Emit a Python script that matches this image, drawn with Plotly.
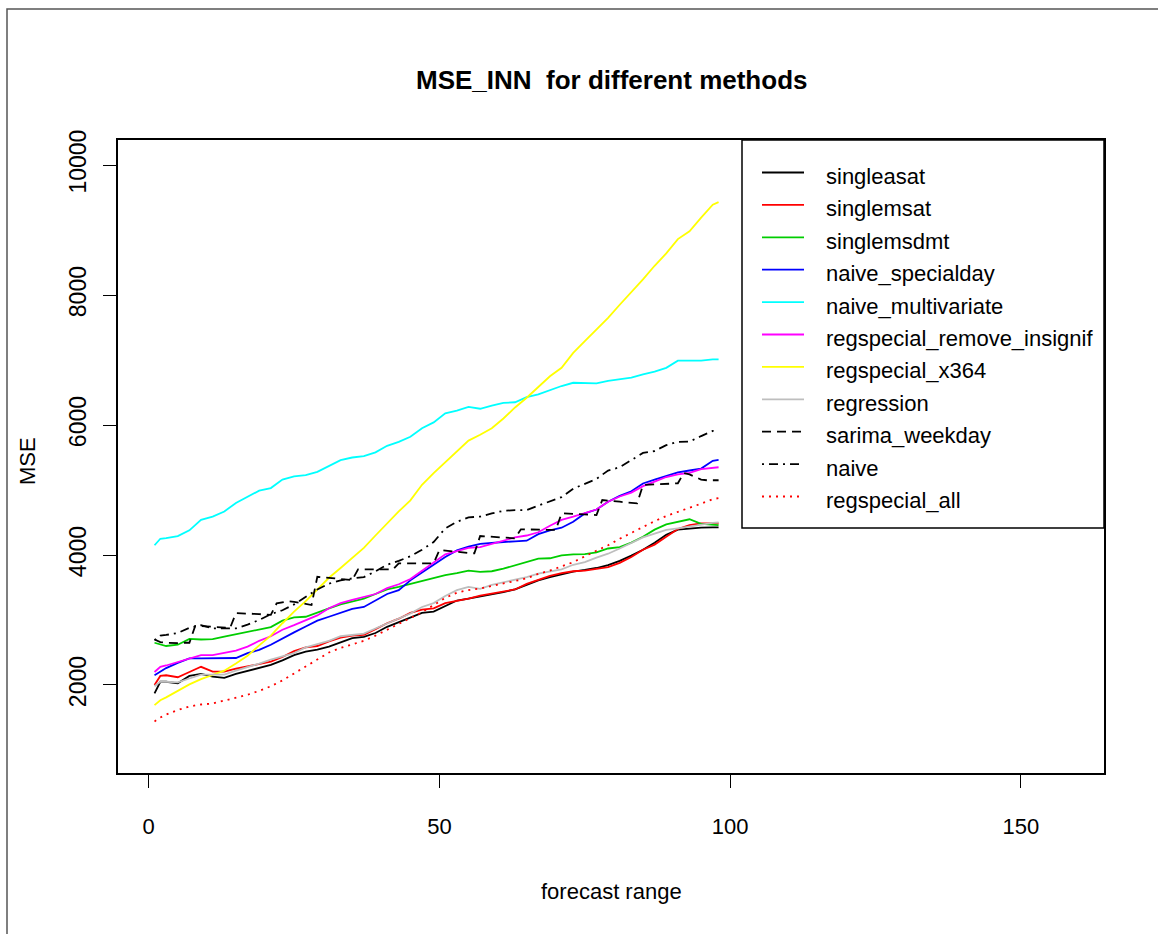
import plotly.graph_objects as go

# ---- data -----------------------------------------------------------------
# forecast horizon (days) at which the smooth error curves are sampled
DAYS = [1, 2, 3, 5, 7, 9, 11, 13, 15, 17, 19, 21, 23, 25, 27, 29, 31, 33, 35, 37,
        39, 41, 43, 45, 47, 49, 51, 53, 55, 57, 59, 61, 63, 65, 67, 69, 71, 73, 75,
        77, 79, 81, 83, 85, 87, 89, 91, 93, 95, 97, 98]

singleasat = [1870, 2050, 2050, 2025, 2140, 2170, 2130, 2110, 2170, 2215, 2260, 2310,
              2380, 2460, 2515, 2545, 2590, 2660, 2720, 2740, 2800, 2895, 2970, 3040,
              3110, 3130, 3220, 3300, 3330, 3360, 3390, 3430, 3470, 3540, 3610, 3660,
              3700, 3745, 3770, 3800, 3845, 3910, 3990, 4080, 4190, 4310, 4390, 4410,
              4420, 4425, 4425]
singlemsat = [2000, 2140, 2150, 2120, 2200, 2280, 2205, 2205, 2250, 2290, 2325, 2360,
              2430, 2520, 2580, 2600, 2670, 2730, 2760, 2770, 2860, 2950, 3020, 3110,
              3160, 3180, 3260, 3290, 3330, 3375, 3410, 3440, 3470, 3555, 3620, 3680,
              3720, 3750, 3760, 3790, 3815, 3880, 3970, 4080, 4160, 4280, 4400, 4460,
              4485, 4487, 4487]
singlemsdmt = [2650, 2620, 2600, 2620, 2710, 2700, 2705, 2745, 2780, 2820, 2850, 2890,
               2990, 3040, 3050, 3120, 3180, 3240, 3290, 3330, 3400, 3470, 3510, 3555,
               3600, 3640, 3690, 3720, 3760, 3740, 3750, 3790, 3840, 3900, 3945, 3950,
               3995, 4010, 4015, 4040, 4100, 4120, 4190, 4280, 4390, 4470, 4505, 4550,
               4480, 4460, 4460]
naive_specialday = [2150, 2210, 2260, 2340, 2410, 2410, 2410, 2410, 2415, 2490, 2540,
                    2620, 2720, 2810, 2900, 2990, 3050, 3110, 3170, 3200, 3300, 3400,
                    3460, 3610, 3730, 3850, 3970, 4070, 4130, 4170, 4190, 4200, 4210,
                    4220, 4320, 4380, 4420, 4510, 4640, 4700, 4820, 4910, 4980, 5100,
                    5160, 5220, 5270, 5300, 5330, 5450, 5465]
naive_multivariate = [4150, 4250, 4260, 4290, 4380, 4540, 4590, 4670, 4800, 4890, 4990,
                      5030, 5160, 5210, 5230, 5280, 5370, 5460, 5500, 5520, 5580, 5680,
                      5740, 5820, 5950, 6040, 6180, 6220, 6280, 6250, 6300, 6340, 6350,
                      6430, 6470, 6540, 6600, 6650, 6650, 6640, 6680, 6700, 6730, 6780,
                      6820, 6880, 6990, 6990, 6990, 7010, 7010]
regspecial_remove_insignif = [2200, 2280, 2300, 2350, 2400, 2460, 2460, 2490, 2530, 2590,
                              2680, 2750, 2850, 2920, 2990, 3070, 3180, 3260, 3310, 3360,
                              3400, 3490, 3550, 3630, 3760, 3890, 4010, 4060, 4110, 4120,
                              4170, 4220, 4270, 4300, 4350, 4450, 4540, 4590, 4650, 4700,
                              4820, 4900, 4960, 5060, 5130, 5200, 5240, 5265, 5320, 5345,
                              5350]
regspecial_x364 = [1690, 1765, 1810, 1910, 2010, 2090, 2150, 2220, 2330, 2450, 2610, 2760,
                   2950, 3130, 3290, 3470, 3650, 3800, 3950, 4110, 4300, 4490, 4670, 4840,
                   5080, 5260, 5430, 5600, 5760, 5850, 5950, 6100, 6270, 6420, 6590, 6750,
                   6880, 7110, 7290, 7470, 7650, 7850, 8040, 8240, 8450, 8640, 8860, 8980,
                   9190, 9390, 9430]
regression = [1980, 2050, 2050, 2040, 2100, 2160, 2160, 2160, 2220, 2270, 2330, 2390,
              2440, 2490, 2580, 2630, 2680, 2750, 2770, 2790, 2870, 2950, 3020, 3100,
              3200, 3260, 3370, 3460, 3510, 3480, 3540, 3580, 3610, 3660, 3715, 3750,
              3780, 3850, 3890, 3960, 4020, 4100, 4190, 4270, 4330, 4385, 4410, 4440,
              4470, 4495, 4500]
naive = [2690, 2760, 2770, 2800, 2880, 2920, 2870, 2870, 2870, 2930, 3000, 3090, 3150,
         3240, 3350, 3470, 3560, 3610, 3640, 3660, 3750, 3850, 3910, 3980, 4080, 4200,
         4410, 4510, 4580, 4590, 4640, 4680, 4690, 4690, 4760, 4830, 4890, 5020, 5100,
         5170, 5300, 5350, 5460, 5570, 5600, 5690, 5740, 5745, 5830, 5910, 5915]
regspecial_all = [1440, 1500, 1545, 1615, 1670, 1700, 1715, 1760, 1800, 1850, 1910, 1980,
                  2070, 2180, 2290, 2400, 2500, 2570, 2625, 2680, 2760, 2850, 2940, 3030,
                  3120, 3230, 3340, 3420, 3460, 3485, 3520, 3555, 3600, 3640, 3710, 3760,
                  3820, 3890, 3980, 4060, 4150, 4250, 4340, 4440, 4520, 4600, 4660, 4720,
                  4790, 4860, 4875]

# the weekly sarima model is evaluated every day (its error moves in weekly steps)
SARIMA_DAYS = list(range(1, 99))
sarima_weekday = [2700, 2660, 2650, 2645, 2645, 2650, 2650,
                  2910, 2905, 2900, 2895, 2890, 2885, 2880,
                  3105, 3105, 3100, 3095, 3090, 3085, 3080,
                  3255, 3270, 3290, 3280, 3260, 3240, 3230,
                  3665, 3660, 3650, 3640, 3630, 3625, 3615,
                  3780, 3780, 3780, 3780, 3780, 3778, 3778,
                  3872, 3872, 3872, 3872, 3872, 3872, 3872,
                  4077, 4070, 4060, 4050, 4040, 4030, 4026,
                  4292, 4285, 4280, 4275, 4270, 4262, 4257,
                  4395, 4393, 4391, 4390, 4388, 4386, 4385,
                  4641, 4637, 4632, 4627, 4622, 4618, 4615,
                  4846, 4840, 4830, 4820, 4810, 4800, 4795,
                  5077, 5080, 5085, 5090, 5095, 5100, 5103,
                  5260, 5240, 5200, 5160, 5150, 5150, 5150]

SERIES = [
    ("singleasat", DAYS, singleasat, "#000000", "solid"),
    ("singlemsat", DAYS, singlemsat, "#ff0000", "solid"),
    ("singlemsdmt", DAYS, singlemsdmt, "#00cd00", "solid"),
    ("naive_specialday", DAYS, naive_specialday, "#0000ff", "solid"),
    ("naive_multivariate", DAYS, naive_multivariate, "#00ffff", "solid"),
    ("regspecial_remove_insignif", DAYS, regspecial_remove_insignif, "#ff00ff", "solid"),
    ("regspecial_x364", DAYS, regspecial_x364, "#ffff00", "solid"),
    ("regression", DAYS, regression, "#bebebe", "solid"),
    ("sarima_weekday", SARIMA_DAYS, sarima_weekday, "#000000", "9px,6px"),
    ("naive", DAYS, naive, "#000000", "2px,5px,9px,5px"),
    ("regspecial_all", DAYS, regspecial_all, "#ff0000", "2px,5px"),
]

X_TICKS = [0, 50, 100, 150]
Y_TICKS = [2000, 4000, 6000, 8000, 10000]
Y_TICK_TEXT = ["2000", "4000", "6000", "8000", "10000"]

# ---- page geometry (pixels) ------------------------------------------------
W, H = 1158, 934
L, R, T, B = 118, 1104, 140, 773
FONT = "Liberation Sans, Arial, sans-serif"


def px(x):
    return (x - L) / (R - L)


def py(y):
    return (B - y) / (B - T)


fig = go.Figure()
for name, xs, ys, color, dash in SERIES:
    fig.add_trace(go.Scatter(x=xs, y=ys, mode="lines", name=name,
                             line=dict(color=color, width=1.8, dash=dash)))

shapes = []
annotations = []

# outer device frame
shapes.append(dict(type="rect", xref="paper", yref="paper",
                   x0=px(7), x1=px(1161), y0=py(945), y1=py(9),
                   line=dict(color="#555555", width=1.5), layer="below"))

# legend box with line samples and labels
shapes.append(dict(type="rect", xref="paper", yref="paper",
                   x0=px(742), x1=px(1104), y0=py(528), y1=py(140),
                   line=dict(color="#000000", width=1.5), fillcolor="rgba(0,0,0,0)"))
row0, step = 172.5, 32.4
for i, (name, xs, ys, color, dash) in enumerate(SERIES):
    yy = row0 + i * step
    shapes.append(dict(type="line", xref="paper", yref="paper",
                       x0=px(762), x1=px(804), y0=py(yy), y1=py(yy),
                       line=dict(color=color, width=1.8, dash=dash)))
    annotations.append(dict(text=name, xref="paper", yref="paper",
                            x=px(824), y=py(yy + 4), xanchor="left", yanchor="middle",
                            showarrow=False, font=dict(family=FONT, size=22, color="#000")))

# titles
annotations.append(dict(text="<b>MSE_INN\u00a0 for different methods</b>", xref="paper",
                        yref="paper", x=px(611), y=py(80), xanchor="center",
                        yanchor="middle", showarrow=False,
                        font=dict(family=FONT, size=26, color="#000")))
annotations.append(dict(text="forecast range", xref="paper", yref="paper",
                        x=px(611), y=py(892), xanchor="center", yanchor="middle",
                        showarrow=False, font=dict(family=FONT, size=22, color="#000")))
annotations.append(dict(text="MSE", xref="paper", yref="paper",
                        x=px(27), y=py(461), xanchor="center", yanchor="middle",
                        textangle=-90, showarrow=False,
                        font=dict(family=FONT, size=22, color="#000")))

fig.update_layout(
    width=W, height=H,
    margin=dict(l=L, r=W - R, t=T, b=H - B, pad=0),
    paper_bgcolor="white", plot_bgcolor="white",
    showlegend=False,
    shapes=shapes, annotations=annotations,
    font=dict(family=FONT, color="#000"),
)
fig.update_xaxes(range=[-5.28, 164.28], tickvals=X_TICKS, ticks="outside", ticklen=13,
                 tickwidth=1, tickcolor="#000", showgrid=False, zeroline=False,
                 showline=True, linecolor="#000", linewidth=1.5, mirror=True,
                 tickfont=dict(family=FONT, size=22), ticklabelstandoff=20)
fig.update_yaxes(range=[646, 10385], tickvals=Y_TICKS, ticktext=Y_TICK_TEXT,
                 ticks="outside", ticklen=13,
                 tickwidth=1, tickcolor="#000", showgrid=False, zeroline=False,
                 showline=True, linecolor="#000", linewidth=1.5, mirror=True,
                 tickangle=-90, tickfont=dict(family=FONT, size=23), ticklabelstandoff=8)

fig.write_html("out.html")
